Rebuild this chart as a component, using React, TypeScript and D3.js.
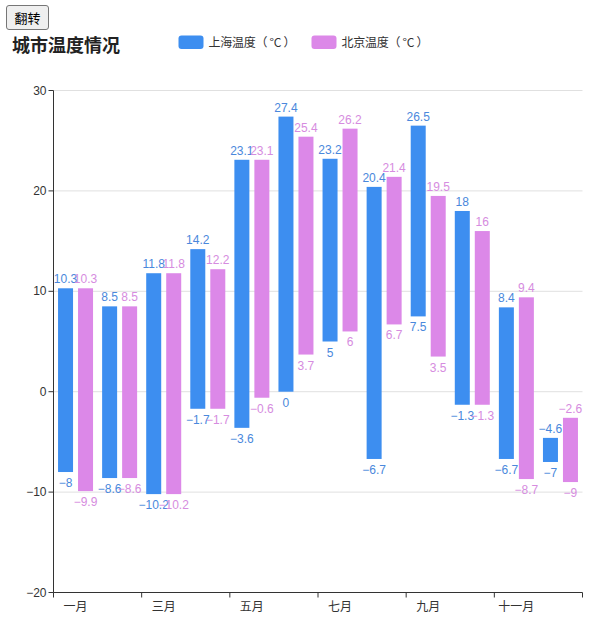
import React from "react";
import * as d3 from "d3";

const months = ["一月", "二月", "三月", "四月", "五月", "六月", "七月", "八月", "九月", "十月", "十一月", "十二月"];
const shanghaiLow = [-8, -8.6, -10.2, -1.7, -3.6, 0, 5, -6.7, 7.5, -1.3, -6.7, -7];
const shanghaiHigh = [10.3, 8.5, 11.8, 14.2, 23.1, 27.4, 23.2, 20.4, 26.5, 18, 8.4, -4.6];
const beijingLow = [-9.9, -8.6, -10.2, -1.7, -0.6, 3.7, 6, 6.7, 3.5, -1.3, -8.7, -9];
const beijingHigh = [10.3, 8.5, 11.8, 12.2, 23.1, 25.4, 26.2, 21.4, 19.5, 16, 9.4, -2.6];
const yTicks = [-20, -10, 0, 10, 20, 30];
const seriesNames = ["上海温度（ °C ）", "北京温度（ °C ）"];

const W = 616;
const H = 633;
const left = 53.5;
const right = 582.5;
const top = 90.5;
const bottom = 592.5;
const BLUE = "#3d8ef0";
const PINK = "#dc88e8";
const BLUE_L = "#4a88dc";
const PINK_L = "#d68ce0";
const FONT = "Helvetica, Arial, 'Liberation Sans', 'Noto Sans CJK SC', sans-serif";

export default function App() {
  const x = d3.scaleBand<string>().domain(months).range([left, right]).paddingInner(0).paddingOuter(0);
  const y = d3.scaleLinear().domain([-20, 30]).range([bottom, top]);
  const barW = 15;
  const gap = 5;
  const bw = x.bandwidth();
  const groupStart = (bw - (barW * 2 + gap)) / 2;

  const series = [
    { name: seriesNames[0], low: shanghaiLow, high: shanghaiHigh, color: BLUE, lc: BLUE_L, off: 0 },
    { name: seriesNames[1], low: beijingLow, high: beijingHigh, color: PINK, lc: PINK_L, off: barW + gap },
  ];

  const xTickIdx = [0, 2, 4, 6, 8, 10, 12];
  const fmt = (v: number) => (v < 0 ? "\u2212" + String(-v) : String(v));

  return (
    <div style={{ position: "absolute", left: 0, top: 0, width: W, height: H }}>
      <button
        style={{
          position: "absolute",
          left: 6,
          top: 5,
          width: 43,
          height: 25,
          padding: 0,
          fontSize: 13,
          fontFamily: "'Noto Sans CJK SC', sans-serif",
          background: "#efefef",
          border: "1px solid #767676",
          borderRadius: 3,
          color: "#000",
        }}
      >
        翻转
      </button>
      <svg width={W} height={H} style={{ display: "block" }}>
        <text x={12} y={52} fontSize={18} fontWeight="bold" fill="#222" fontFamily={"'Noto Sans CJK SC', sans-serif"}>
          城市温度情况
        </text>
        {series.map((s, i) => {
          const lx = i === 0 ? 178.5 : 311.5;
          return (
            <g key={s.name}>
              <rect x={lx} y={35.5} width={25} height={13.5} rx={3} fill={s.color} />
              <text x={lx + 30} y={47} fontSize={12} fill="#333" textLength={87} lengthAdjust="spacing" fontFamily={"'Noto Sans CJK SC', sans-serif"}>
                {s.name}
              </text>
            </g>
          );
        })}
        {yTicks.map((t) => (
          <g key={t}>
            {t !== -20 && <line x1={left} x2={right} y1={y(t)} y2={y(t)} stroke="#e0e0e0" strokeWidth={1} />}
            <line x1={left - 5} x2={left} y1={y(t)} y2={y(t)} stroke="#333" strokeWidth={1} />
            <text x={left - 7} y={y(t) + 4} fontSize={12} textAnchor="end" fill="#333" fontFamily={FONT}>
              {fmt(t)}
            </text>
          </g>
        ))}
        <line x1={left} x2={left} y1={top} y2={bottom} stroke="#333" strokeWidth={1} />
        <line x1={left} x2={right} y1={bottom} y2={bottom} stroke="#333" strokeWidth={1} />
        {xTickIdx.map((k) => {
          const px = k < months.length ? (x(months[k]) as number) : right;
          return <line key={k} x1={px} x2={px} y1={bottom} y2={bottom + 5} stroke="#333" strokeWidth={1} />;
        })}
        {months.map((m, i) =>
          i % 2 === 0 ? (
            <text key={m} x={(x(m) as number) + bw / 2} y={611} fontSize={12} textAnchor="middle" fill="#333" fontFamily={"'Noto Sans CJK SC', sans-serif"}>
              {m}
            </text>
          ) : null
        )}
        {series.map((s) => (
          <g key={s.name}>
            {months.map((m, i) => {
              const bx = (x(m) as number) + groupStart + s.off;
              const yt = y(s.high[i]);
              const yb = y(s.low[i]);
              return <rect key={m} x={bx} y={yt} width={barW} height={Math.max(0.5, yb - yt)} fill={s.color} />;
            })}
          </g>
        ))}
        {series.map((s) => (
          <g key={s.name + "l"}>
            {months.map((m, i) => {
              const cx = (x(m) as number) + groupStart + s.off + barW / 2;
              const yt = y(s.high[i]);
              const yb = y(s.low[i]);
              return (
                <g key={m} fontSize={12} fontFamily={FONT} fill={s.lc} textAnchor="middle">
                  <text x={cx} y={yt - 5}>{fmt(s.high[i])}</text>
                  <text x={cx} y={yb + 15}>{fmt(s.low[i])}</text>
                </g>
              );
            })}
          </g>
        ))}
      </svg>
    </div>
  );
}
